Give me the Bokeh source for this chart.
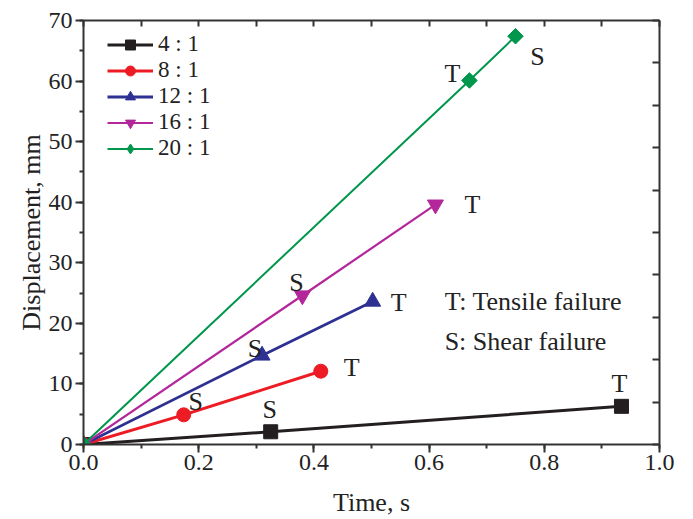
import math
from bokeh.plotting import figure
from bokeh.models import (LinearAxis, Range1d, SingleIntervalTicker, Legend, LegendItem, Label,
                          ColumnDataSource, PrintfTickFormatter, CustomJSTickFormatter)
from bokeh.embed import file_html
from bokeh.resources import INLINE
from bokeh.core.properties import value

# ---------------- data ----------------
series_names = ["4 : 1", "8 : 1", "12 : 1", "16 : 1", "20 : 1"]
time_4 = [0.0, 0.325, 0.934]
disp_4 = [0.0, 2.1, 6.3]
fail_4 = ["", "S", "T"]
time_8 = [0.0, 0.174, 0.412]
disp_8 = [0.0, 4.9, 12.1]
fail_8 = ["", "S", "T"]
time_12 = [0.0, 0.310, 0.502]
disp_12 = [0.0, 14.7, 23.6]
fail_12 = ["", "S", "T"]
time_16 = [0.0, 0.380, 0.611]
disp_16 = [0.0, 24.6, 39.6]
fail_16 = ["", "S", "T"]
time_20 = [0.0, 0.670, 0.750]
disp_20 = [0.0, 60.1, 67.4]
fail_20 = ["", "T", "S"]

x_ticks_step = 0.2
y_ticks_step = 10

# ---------------- styles / layout ----------------
FONT = "Liberation Serif"
FS_TICK = "24px"
FS_TEXT = "26px"
FS_LEG = "23px"
TXT = "#222222"
colors = ["#231f20", "#ed1c24", "#2e3192", "#b3279b", "#00964b"]
markers = ["square", "circle", "triangle", "inverted_triangle", "square"]
legend_markers = ["square", "circle", "triangle", "inverted_triangle", "diamond"]
mangles = [0, 0, 0, 0, math.pi / 4]
msizes = [14, 14, 16, 16, 11]
lwidths = [3, 3, 2.8, 2.2, 2.0]
# pixel offsets (dx, dy) for the failure labels
label_offsets = [
    [(0, 0), (-1, -22), (-2, -23)],
    [(0, 0), (12, -13), (31, -4)],
    [(0, 0), (-7, -7), (26, 1)],
    [(0, 0), (-6, -13), (37, 0)],
    [(0, 0), (-17, -7), (22, 20)],
]

times = [time_4, time_8, time_12, time_16, time_20]
disps = [disp_4, disp_8, disp_12, disp_16, disp_20]
fails = [fail_4, fail_8, fail_12, fail_16, fail_20]

p = figure(width=693, height=519, output_backend="svg", toolbar_location=None,
           x_range=Range1d(0, 1.0), y_range=Range1d(0, 70),
           min_border_left=83, min_border_right=34, min_border_top=20, min_border_bottom=74)
p.xgrid.visible = False
p.ygrid.visible = False
p.outline_line_color = None
p.background_fill_color = "white"

AX_COLOR = "#333333"

def style_axis(ax):
    ax.axis_line_color = AX_COLOR
    ax.axis_line_width = 2
    ax.major_tick_line_color = AX_COLOR
    ax.minor_tick_line_color = AX_COLOR
    ax.major_tick_line_width = 2
    ax.minor_tick_line_width = 2
    ax.major_label_text_font = FONT
    ax.major_label_text_font_size = FS_TICK
    ax.major_label_text_color = TXT
    ax.axis_label_text_font = FONT
    ax.axis_label_text_font_size = FS_TEXT
    ax.axis_label_text_font_style = "normal"
    ax.axis_label_text_color = TXT

xa = p.xaxis[0]
xa.ticker = SingleIntervalTicker(interval=x_ticks_step, num_minor_ticks=2)
xa.formatter = PrintfTickFormatter(format="%.1f")
xa.axis_label = "Time, s"
style_axis(xa)
xa.major_tick_out = 8
xa.major_tick_in = 0
xa.minor_tick_out = 4
xa.minor_tick_in = 0
xa.major_label_standoff = 2
xa.axis_label_standoff = 15

ya = p.yaxis[0]
ya.ticker = SingleIntervalTicker(interval=y_ticks_step, num_minor_ticks=2)
ya.axis_label = "Displacement, mm"
style_axis(ya)
ya.major_tick_out = 8
ya.major_tick_in = 0
ya.minor_tick_out = 4
ya.minor_tick_in = 0
ya.major_label_standoff = 3
ya.axis_label_standoff = 0

blank = CustomJSTickFormatter(code="return ''")

top = LinearAxis(ticker=SingleIntervalTicker(interval=0.1, num_minor_ticks=0), formatter=blank)
style_axis(top)
top.major_tick_in = 6
top.major_tick_out = 0
top.major_label_standoff = 0
p.add_layout(top, "above")

p.extra_y_ranges = {"r": Range1d(0, 10)}
right = LinearAxis(y_range_name="r", ticker=SingleIntervalTicker(interval=1, num_minor_ticks=0),
                   formatter=blank)
style_axis(right)
right.major_tick_in = 7
right.major_tick_out = 0
right.major_label_standoff = 0
p.add_layout(right, "right")

legend_items = []
for i in range(5):
    src = ColumnDataSource(dict(x=times[i], y=disps[i], t=fails[i],
                                dx=[o[0] for o in label_offsets[i]],
                                dy=[o[1] for o in label_offsets[i]]))
    ln = p.line("x", "y", source=src, line_color=colors[i], line_width=lwidths[i])
    sc = p.scatter("x", "y", source=src, marker=markers[i], size=msizes[i], angle=mangles[i],
                   fill_color=colors[i], line_color=colors[i])
    p.text("x", "y", text="t", source=src, x_offset="dx", y_offset="dy",
           text_font=value(FONT), text_font_size=FS_TEXT, text_color=TXT,
           text_align="center", text_baseline="middle")
    if legend_markers[i] != markers[i]:
        # legend-only glyph (hidden in the plot)
        lg = p.scatter("x", "y", source=src, marker=legend_markers[i], size=msizes[i],
                       fill_color=colors[i], line_color=colors[i], visible=False)
        legend_items.append(LegendItem(label=series_names[i], renderers=[ln, lg]))
    else:
        legend_items.append(LegendItem(label=series_names[i], renderers=[ln, sc]))

leg = Legend(items=legend_items, location=(24, 283))
leg.glyph_width = 46
leg.glyph_height = 25
leg.label_height = 25
leg.spacing = 0
leg.padding = 0
leg.margin = 0
leg.label_standoff = 5
leg.label_text_font = FONT
leg.label_text_font_size = FS_LEG
leg.label_text_color = TXT
leg.label_text_line_height = 1.0
leg.border_line_color = None
leg.background_fill_alpha = 0
leg.inactive_fill_alpha = 0
p.add_layout(leg, "center")

p.add_layout(Label(x=0.627, y=23.6, text="T: Tensile failure", text_font=FONT,
                   text_font_size=FS_TEXT, text_color=TXT, text_baseline="middle"))
p.add_layout(Label(x=0.627, y=17.0, text="S: Shear failure", text_font=FONT,
                   text_font_size=FS_TEXT, text_color=TXT, text_baseline="middle"))

open("out.html", "w").write(file_html(p, INLINE))
